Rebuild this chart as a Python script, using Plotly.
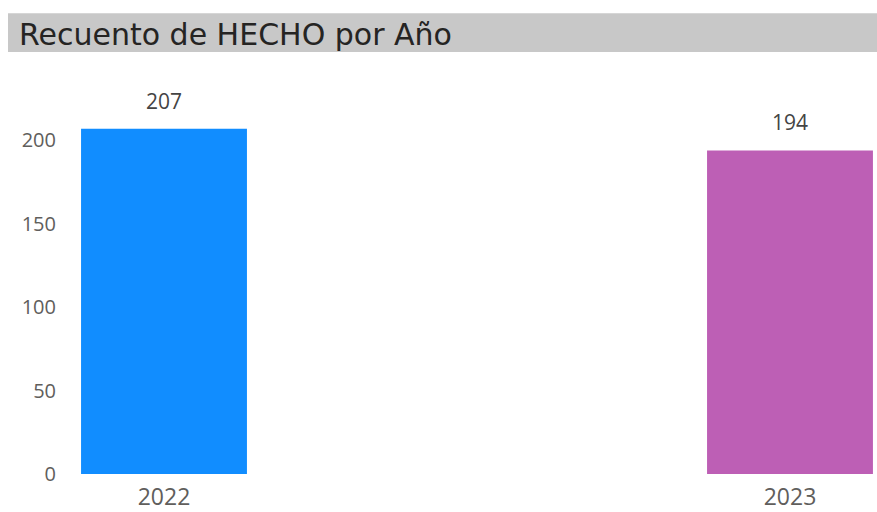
import plotly.graph_objects as go

years = ["2022", "2023"]
counts = [207, 194]
colors = ["#118DFF", "#BD5FB5"]
y_ticks = [0, 50, 100, 150, 200]
title_text = "Recuento de HECHO por Año"

W, H = 877, 512
L, R, T, B = 70, 0, 60, 36
pw, ph = W - L - R, H - T - B


def px(sx):
    return (sx - L) / pw


def py(sy):
    return (H - B - sy) / ph


xpos = list(range(len(years)))

fig = go.Figure()
fig.add_trace(go.Bar(
    x=xpos, y=counts, marker=dict(color=colors, line=dict(width=0)),
    width=0.265, hoverinfo="skip", showlegend=False,
))

for xi, v in zip(xpos, counts):
    fig.add_annotation(x=xi, y=v, xref="x", yref="y", text=str(v), showarrow=False,
                       yanchor="bottom", yshift=12,
                       font=dict(family="Open Sans", size=21, color="#444444"))

# title bar
fig.add_shape(type="rect", xref="paper", yref="paper",
              x0=px(8), x1=px(877), y0=py(52), y1=py(13),
              fillcolor="#C8C8C8", line=dict(width=0), layer="below")
fig.add_annotation(xref="paper", yref="paper", x=px(17), y=py(34),
                   xanchor="left", yanchor="middle", showarrow=False, text=title_text,
                   font=dict(family="DejaVu Sans", size=30, color="#252423"))

# x axis: category centres at screen x=164 and x=790
x0_scr, dx_scr = 164, 626
fig.update_layout(
    width=W, height=H, margin=dict(l=L, r=R, t=T, b=B),
    paper_bgcolor="white", plot_bgcolor="white",
    xaxis=dict(range=[(L - x0_scr) / dx_scr, (W - x0_scr) / dx_scr], tickmode="array",
               tickvals=xpos, ticktext=years, showgrid=False, zeroline=False,
               showline=False, ticks="", ticklabelstandoff=7,
               tickfont=dict(family="Open Sans", size=23, color="#605E5C")),
    yaxis=dict(range=[0, 248.2], tickmode="array", tickvals=y_ticks,
               showgrid=False, zeroline=False, showline=False, ticks="",
               ticklabelstandoff=13,
               tickfont=dict(family="Open Sans", size=20, color="#605E5C")),
)

fig.write_html("out.html", config={"displayModeBar": False},
               post_script="document.body.style.margin='0';document.body.style.overflow='hidden';")
